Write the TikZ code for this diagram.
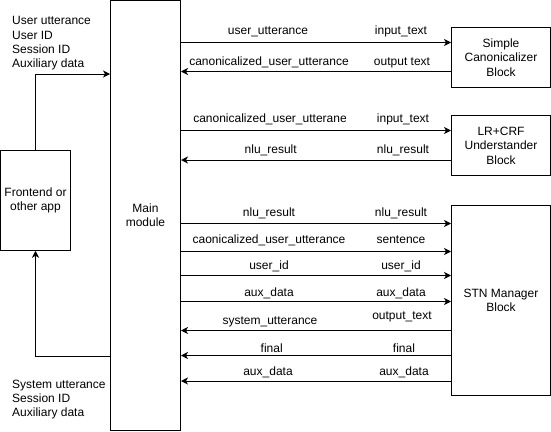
\documentclass[tikz,border=0pt]{standalone}
\usepackage{fontspec}
\setmainfont{Liberation Sans}
\usetikzlibrary{arrows.meta}
\begin{document}
\begin{tikzpicture}[x=1pt,y=-1pt,
  box/.style={draw,line width=1pt,rectangle,inner sep=0pt,align=center,font=\fontsize{12}{14.4}\selectfont},
  arr/.style={line width=1pt,-{Stealth[length=7pt,width=7pt,inset=2pt]}},
  lbl/.style={inner sep=0pt,font=\fontsize{12}{14.4}\selectfont,text height=8.6pt,text depth=0pt},
  multi/.style={inner sep=0pt,align=left,font=\fontsize{12}{14.4}\selectfont}]
\useasboundingbox (0,0) rectangle (551,431);
\node[box,minimum width=70pt,minimum height=429.5pt] (main) at (145.5,215.25) {Main\\module};
\node[box,minimum width=70pt,minimum height=100pt] (fe) at (35.5,200.25) {Frontend or\\other app};
\node[box,minimum width=99pt,minimum height=60pt] (scb) at (501,57.5) {Simple\\Canonicalizer\\Block};
\node[box,minimum width=99pt,minimum height=60pt] (lr) at (501,145.5) {LR+CRF\\Understander\\Block};
\node[box,minimum width=99pt,minimum height=190pt] (stn) at (501,300.5) {STN Manager\\Block};

\node[multi,anchor=west] (intext) at (12,43.5) {User utterance\\User ID\\Session ID\\Auxiliary data};
\node[multi,anchor=west] (outtext) at (12,399.5) {System utterance\\Session ID\\Auxiliary data};

\draw[arr] (fe.north) |- (main.west |- 0,74);
\draw[arr] (main.west |- 0,356) -| (fe.south);

% Canonicalizer
\draw[arr] (main.east |- 0,42.5) -- (scb.west |- 0,42.5);
\draw[arr] (scb.west |- 0,71.5) -- (main.east |- 0,71.5);
\node[lbl] (l1a) at (268,30) {user\_utterance};
\node[lbl] (l1b) at (401,30) {input\_text};
\node[lbl] (l2a) at (269,61) {canonicalized\_user\_utterance};
\node[lbl] (l2b) at (402,61) {output text};

% Understander
\draw[arr] (main.east |- 0,130.5) -- (lr.west |- 0,130.5);
\draw[arr] (lr.west |- 0,160) -- (main.east |- 0,160);
\node[lbl] (l3a) at (270,117.7) {canonicalized\_user\_utterane};
\node[lbl] (l3b) at (403,117.7) {input\_text};
\node[lbl] (l4a) at (270.7,149.3) {nlu\_result};
\node[lbl] (l4b) at (403,149.3) {nlu\_result};

% STN manager
\draw[arr] (main.east |- 0,223.5) -- (stn.west |- 0,223.5);
\draw[arr] (main.east |- 0,251.5) -- (stn.west |- 0,251.5);
\draw[arr] (main.east |- 0,275.5) -- (stn.west |- 0,275.5);
\draw[arr] (main.east |- 0,301.5) -- (stn.west |- 0,301.5);
\draw[arr] (stn.west |- 0,330.5) -- (main.east |- 0,330.5);
\draw[arr] (stn.west |- 0,355.5) -- (main.east |- 0,355.5);
\draw[arr] (stn.west |- 0,381) -- (main.east |- 0,381);
\node[lbl] (l5a) at (269,211.7) {nlu\_result};
\node[lbl] (l5b) at (401,211.7) {nlu\_result};
\node[lbl] (l6a) at (269,239.3) {caonicalized\_user\_utterance};
\node[lbl] (l6b) at (401,239.3) {sentence};
\node[lbl] (l7a) at (269,265) {user\_id};
\node[lbl] (l7b) at (401,265) {user\_id};
\node[lbl] (l8a) at (269,292.3) {aux\_data};
\node[lbl] (l8b) at (401,292.3) {aux\_data};
\node[lbl] (l9a) at (270,320) {system\_utterance};
\node[lbl] (l9b) at (402,315) {output\_text};
\node[lbl] (l10a) at (271.7,348.3) {final};
\node[lbl] (l10b) at (404,348.3) {final};
\node[lbl] (l11a) at (268,371) {aux\_data};
\node[lbl] (l11b) at (404,371) {aux\_data};
\end{tikzpicture}
\end{document}
